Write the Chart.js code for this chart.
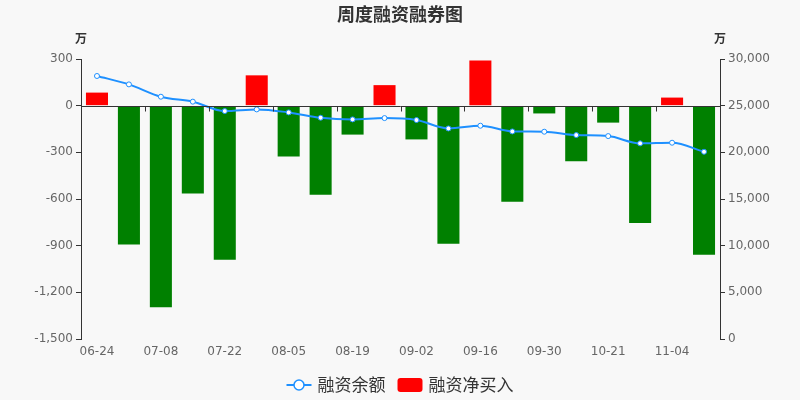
<!DOCTYPE html>
<html>
<head>
<meta charset="utf-8">
<script src="https://cdn.jsdelivr.net/npm/chart.js@4/dist/chart.umd.min.js"></script>
<style>
html,body{margin:0;padding:0;background:#f8f8f8;}
#wrap{width:800px;height:400px;position:relative;}
</style>
</head>
<body>
<div id="wrap"><canvas id="c" width="800" height="400"></canvas></div>
<script>
const categories = ["06-24","07-01","07-08","07-15","07-22","07-29","08-05","08-12","08-19","08-26","09-02","09-09","09-16","09-23","09-30","10-14","10-21","10-28","11-04","11-11"];
const netBuy = [84,-892,-1296,-565,-990,195,-326,-572,-186,132,-217,-887,290,-617,-50,-357,-109,-754,52,-958];
const balance = [28180,27280,25960,25430,24420,24600,24280,23710,23530,23670,23460,22560,22850,22240,22210,21850,21740,20960,21030,20060];
const leftTicks = {min:-1500, max:300, step:300};
const rightTicks = {min:0, max:30000, step:5000};
const titleText = "周度融资融券图";
const unitText = "万";
const seriesNames = ["融资余额","融资净买入"];

const FONT = "'Noto Sans CJK SC', 'Noto Sans', sans-serif";
const TICK_FONT = "'DejaVu Sans', sans-serif";
const LINE_COLOR = "#1e90ff";
const POS_COLOR = "#ff0000";
const NEG_COLOR = "#008000";

function roundRect(g, x, y, w, h, r){
  g.beginPath();
  g.moveTo(x+r,y); g.lineTo(x+w-r,y); g.quadraticCurveTo(x+w,y,x+w,y+r);
  g.lineTo(x+w,y+h-r); g.quadraticCurveTo(x+w,y+h,x+w-r,y+h);
  g.lineTo(x+r,y+h); g.quadraticCurveTo(x,y+h,x,y+h-r);
  g.lineTo(x,y+r); g.quadraticCurveTo(x,y,x+r,y);
  g.closePath();
}

const decor = {
  id: 'decor',
  beforeDraw(chart){
    const {ctx, width, height} = chart;
    ctx.save();
    ctx.fillStyle = '#f8f8f8';
    ctx.fillRect(0,0,width,height);
    ctx.restore();
  },
  afterDatasetsDraw(chart){
    const ctx = chart.ctx;
    const x = chart.scales.x, y = chart.scales.y;
    const y0 = Math.round(y.getPixelForValue(0)) + 0.5;
    ctx.save();
    ctx.strokeStyle = '#333';
    ctx.lineWidth = 1;
    ctx.beginPath();
    ctx.moveTo(chart.chartArea.left, y0);
    ctx.lineTo(chart.chartArea.right, y0);
    const n = categories.length;
    const cw = (x.right - x.left) / n;
    for (let i = 0; i <= n; i += 2) {
      const px = Math.round(x.left + i * cw) + 0.5;
      ctx.moveTo(px, y0);
      ctx.lineTo(px, y0 + 5);
    }
    ctx.stroke();
    ctx.restore();
  },
  afterDraw(chart){
    const ctx = chart.ctx;
    const y = chart.scales.y, y2 = chart.scales.y2;
    ctx.save();
    ctx.fillStyle = '#333';
    ctx.textAlign = 'center';
    ctx.textBaseline = 'middle';
    ctx.font = 'bold 18px ' + FONT;
    ctx.fillText(titleText, chart.width/2, 14);
    ctx.font = 'bold 12px ' + FONT;
    ctx.fillText(unitText, y.right, 38);
    ctx.fillText(unitText, y2.left, 38);

    // legend
    const iconW = 25, iconH = 14, gap = 6, itemGap = 12, ly = 385;
    ctx.font = '17px ' + FONT;
    const widths = seriesNames.map(s => ctx.measureText(s).width);
    const total = widths.reduce((a,w) => a + iconW + gap + w, 0) + itemGap * (seriesNames.length - 1);
    let lx = chart.width/2 - total/2;
    seriesNames.forEach((name, i) => {
      if (i === 0) {
        ctx.strokeStyle = LINE_COLOR; ctx.lineWidth = 2;
        ctx.beginPath(); ctx.moveTo(lx, ly); ctx.lineTo(lx+iconW, ly); ctx.stroke();
        ctx.fillStyle = '#fff'; ctx.lineWidth = 1.5;
        ctx.beginPath(); ctx.arc(lx+iconW/2, ly, 5, 0, Math.PI*2); ctx.fill(); ctx.stroke();
      } else {
        ctx.fillStyle = POS_COLOR;
        roundRect(ctx, lx, ly - iconH/2, iconW, iconH, 3);
        ctx.fill();
      }
      lx += iconW + gap;
      ctx.fillStyle = '#333';
      ctx.textAlign = 'left';
      ctx.fillText(name, lx, ly);
      lx += widths[i] + itemGap;
    });
    ctx.restore();
  }
};

new Chart(document.getElementById('c'), {
  data: {
    labels: categories,
    datasets: [
      {
        type: 'line',
        label: seriesNames[0],
        data: balance,
        yAxisID: 'y2',
        borderColor: LINE_COLOR,
        borderWidth: 2,
        backgroundColor: '#ffffff',
        pointBackgroundColor: '#ffffff',
        pointBorderColor: LINE_COLOR,
        pointBorderWidth: 1,
        pointRadius: 2.5,
        tension: 0.35,
        cubicInterpolationMode: 'monotone',
        order: 0
      },
      {
        type: 'bar',
        label: seriesNames[1],
        data: netBuy,
        yAxisID: 'y',
        backgroundColor: netBuy.map(v => v >= 0 ? POS_COLOR : NEG_COLOR),
        barPercentage: 0.69,
        categoryPercentage: 1,
        order: 1
      }
    ]
  },
  options: {
    responsive: false,
    animation: false,
    layout: { padding: { top: 59, bottom: 30, left: 0, right: 0 } },
    plugins: {
      title: { display: false },
      tooltip: { enabled: false },
      legend: { display: false }
    },
    scales: {
      x: {
        type: 'category',
        offset: true,
        grid: { display: false, drawTicks: false },
        border: { display: false },
        ticks: {
          color: '#666',
          font: { size: 12, family: TICK_FONT },
          autoSkip: false,
          maxRotation: 0,
          padding: 6,
          callback(v, i){ return i % 2 === 0 ? categories[i] : ''; }
        },
        afterFit(s){ s.height = 31; }
      },
      y: {
        position: 'left',
        min: leftTicks.min, max: leftTicks.max,
        grid: { display: true, drawOnChartArea: false, drawTicks: true, tickLength: 5, color: '#333' },
        border: { display: true, color: '#333' },
        ticks: { stepSize: leftTicks.step, color: '#666', font: { size: 12, family: TICK_FONT }, padding: 3 },
        afterFit(s){ s.width = 81; }
      },
      y2: {
        position: 'right',
        min: rightTicks.min, max: rightTicks.max,
        grid: { display: true, drawOnChartArea: false, drawTicks: true, tickLength: 5, color: '#333' },
        border: { display: true, color: '#333' },
        ticks: { stepSize: rightTicks.step, color: '#666', font: { size: 12, family: TICK_FONT }, padding: 3 },
        afterFit(s){ s.width = 80; }
      }
    }
  },
  plugins: [decor]
});
</script>
</body>
</html>
